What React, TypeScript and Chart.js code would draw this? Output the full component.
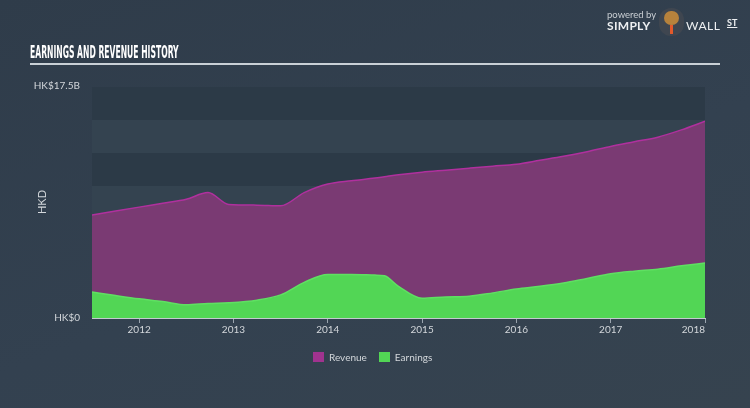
import React, { useEffect, useRef } from "react";
import { Chart, registerables } from "chart.js";
Chart.register(...registerables);

const periods = [
  2011.5, 2011.75, 2012.0, 2012.25, 2012.5, 2012.73, 2012.95, 2013.25, 2013.5, 2013.75,
  2014.0, 2014.25, 2014.5, 2014.6, 2014.75, 2015.0, 2015.25, 2015.5, 2015.75, 2016.0,
  2016.25, 2016.5, 2016.75, 2017.0, 2017.25, 2017.5, 2017.75, 2018.0,
];
const revenue = [
  7.8, 8.1, 8.4, 8.7, 9.0, 9.5, 8.6, 8.55, 8.5, 9.5,
  10.15, 10.4, 10.6, 10.7, 10.85, 11.05, 11.2, 11.35, 11.5, 11.65,
  11.95, 12.25, 12.6, 13.0, 13.35, 13.7, 14.25, 14.9,
];
const earnings = [
  1.97, 1.7, 1.45, 1.25, 1.0, 1.1, 1.15, 1.35, 1.75, 2.7,
  3.3, 3.3, 3.25, 3.2, 2.4, 1.5, 1.6, 1.65, 1.9, 2.2,
  2.4, 2.65, 3.0, 3.35, 3.55, 3.7, 3.95, 4.17,
];
const tickYears = [2012, 2013, 2014, 2015, 2016, 2017, 2018];
const yLabels = ["HK$0", "HK$17.5B"];
const yMax = 17.5;
const yStep = 2.5;
const seriesNames = ["Revenue", "Earnings"];
const seriesColors = ["#a0338f", "#52d655"];

const FONT = "Lato, 'Open Sans', sans-serif";

export default function App() {
  const ref = useRef<HTMLCanvasElement | null>(null);

  useEffect(() => {
    document.body.style.margin = "0";
    const bands = {
      id: "bands",
      beforeDatasetsDraw(chart: any) {
        const { ctx, chartArea, scales } = chart;
        const y = scales.y;
        ctx.save();
        let i = 0;
        for (let v = 0; v < yMax - 1e-9; v += yStep, i++) {
          const top = y.getPixelForValue(v + yStep);
          const bottom = y.getPixelForValue(v);
          ctx.fillStyle = i % 2 === 0 ? "#2c3a47" : "#344350";
          ctx.fillRect(chartArea.left, top, chartArea.width, bottom - top);
        }
        ctx.restore();
      },
    };
    const xLabels = {
      id: "xLabels",
      afterDraw(chart: any) {
        const { ctx, scales, chartArea } = chart;
        const x = scales.x;
        ctx.save();
        ctx.fillStyle = "#d3d7db";
        ctx.font = `10px ${FONT}`;
        ctx.textBaseline = "middle";
        tickYears.forEach((yr, i) => {
          const px = x.getPixelForValue(yr);
          ctx.textAlign = i === tickYears.length - 1 ? "right" : "center";
          ctx.fillText(String(yr), px, chartArea.bottom + 12);
        });
        ctx.restore();
      },
    };
    const chart = new Chart(ref.current as HTMLCanvasElement, {
      type: "line",
      data: {
        datasets: [
          {
            label: "Earnings",
            data: periods.map((p, i) => ({ x: p, y: earnings[i] })),
            fill: "origin",
            backgroundColor: "#52d655",
            borderColor: "#5fe062",
            borderWidth: 1.5,
            pointRadius: 0,
            cubicInterpolationMode: "monotone",
            order: 0,
          },
          {
            label: "Revenue",
            data: periods.map((p, i) => ({ x: p, y: revenue[i] })),
            fill: "origin",
            backgroundColor: "#7a3a73",
            borderColor: "#b0309e",
            borderWidth: 1.5,
            pointRadius: 0,
            cubicInterpolationMode: "monotone",
            order: 1,
          },
        ],
      },
      options: {
        animation: false,
        responsive: false,
        layout: { padding: { left: 92, right: 45, top: 87, bottom: 0 } },
        plugins: { legend: { display: false }, tooltip: { enabled: false } },
        scales: {
          x: {
            type: "linear",
            min: 2011.5,
            max: 2018,
            afterBuildTicks: (s: any) => {
              s.ticks = tickYears.map((v) => ({ value: v }));
            },
            afterFit: (s: any) => {
              s.height = 90;
            },
            ticks: { display: false },
            grid: { drawOnChartArea: false, drawTicks: true, tickLength: 5, color: "#9aa4ae" },
            border: { display: true, color: "#c3cad0", width: 1 },
          },
          y: { display: false, min: 0, max: yMax },
        },
      },
      plugins: [bands, xLabels],
    } as any);
    return () => chart.destroy();
  }, []);

  const txt: React.CSSProperties = { position: "absolute", color: "#d3d7db", fontFamily: FONT, fontSize: 10, whiteSpace: "nowrap", lineHeight: "12px" };

  return (
    <div style={{ position: "relative", width: 750, height: 408, overflow: "hidden", background: "linear-gradient(160deg, #2f3c4a 0%, #334150 55%, #36434f 100%)" }}>
      <canvas ref={ref} width={750} height={408} style={{ position: "absolute", left: 0, top: 0, width: 750, height: 408 }} />
      <div style={{ position: "absolute", left: 30, top: 43, color: "#ffffff", fontFamily: "'DejaVu Sans Condensed', 'Liberation Sans Narrow', sans-serif", fontWeight: "bold", fontSize: 17, lineHeight: "19px", whiteSpace: "nowrap", transform: "scaleX(0.5)", transformOrigin: "left top", letterSpacing: 0 }}>
        EARNINGS AND REVENUE HISTORY
      </div>
      <div style={{ position: "absolute", left: 30, top: 63, width: 690, height: 2, background: "#c9d0d6" }} />
      <div style={{ ...txt, left: 607, top: 9, fontSize: 9.5, color: "#c9ced3" }}>powered by</div>
      <div style={{ ...txt, left: 607, top: 20, fontSize: 12, fontWeight: "bold", color: "#eef0f2", letterSpacing: 0.3 }}>SIMPLY</div>
      <div style={{ position: "absolute", left: 659, top: 8, width: 25, height: 28, borderRadius: 12, background: "#3f4650" }}>
        <div style={{ position: "absolute", left: 5, top: 3, width: 15, height: 14, borderRadius: 7, background: "#b7823c" }} />
        <div style={{ position: "absolute", left: 11, top: 17, width: 3, height: 9, background: "#e2592b" }} />
      </div>
      <div style={{ ...txt, left: 686, top: 20, fontSize: 12, color: "#eef0f2", letterSpacing: 0.5 }}>WALL</div>
      <div style={{ ...txt, left: 727, top: 17, fontSize: 9, fontWeight: "bold", color: "#eef0f2", textDecoration: "underline" }}>ST</div>
      <div style={{ ...txt, right: 750 - 80, top: 79, textAlign: "right" }}>{yLabels[1]}</div>
      <div style={{ ...txt, right: 750 - 80, top: 311, textAlign: "right" }}>{yLabels[0]}</div>
      <div style={{ ...txt, left: 42, top: 202, transform: "translate(-50%, -50%) rotate(-90deg)", fontSize: 11 }}>HKD</div>
      <div style={{ position: "absolute", left: 313, top: 351, display: "flex", alignItems: "center", fontFamily: FONT, fontSize: 10, color: "#d3d7db" }}>
        <span style={{ display: "inline-block", width: 11, height: 10, background: seriesColors[0], marginRight: 5 }} />
        <span>{seriesNames[0]}</span>
        <span style={{ display: "inline-block", width: 11, height: 10, background: seriesColors[1], marginLeft: 12, marginRight: 5 }} />
        <span>{seriesNames[1]}</span>
      </div>
    </div>
  );
}
